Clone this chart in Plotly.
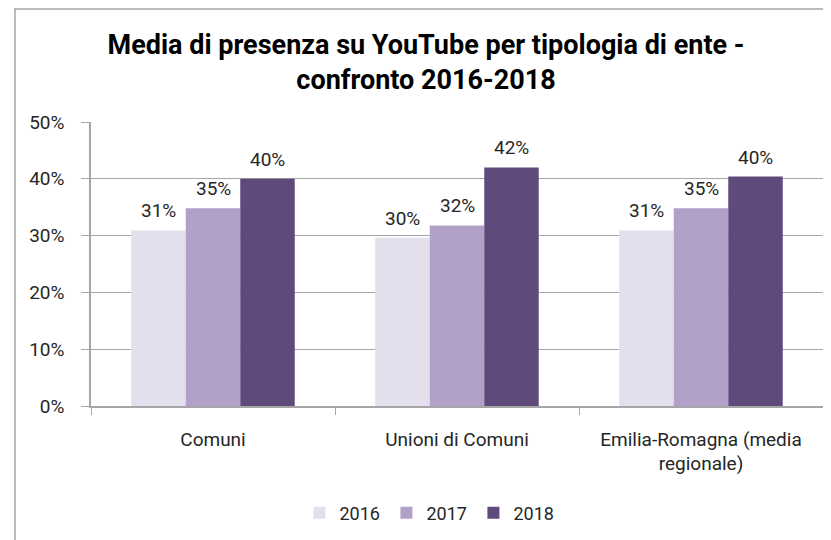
import plotly.graph_objects as go

categories = ["Comuni", "Unioni di Comuni", "Emilia-Romagna (media<br>regionale)"]
years = ["2016", "2017", "2018"]
values_2016 = [0.309, 0.296, 0.309]
values_2017 = [0.348, 0.318, 0.348]
values_2018 = [0.400, 0.420, 0.404]
labels_2016 = ["31%", "30%", "31%"]
labels_2017 = ["35%", "32%", "35%"]
labels_2018 = ["40%", "42%", "40%"]
colors = ["#E4DFEC", "#B1A0C7", "#604A7B"]

FONT = "Roboto, sans-serif"

# page body has an 8px margin: figure is placed at (8, 8) in the window
W, H = 823, 532
L, R, T, B = 83, 8, 114, 134
PW, PH = W - L - R, H - T - B
BARGAP = 0.33
bar_px = PW / len(categories) * (1 - BARGAP) / len(years)

series = [values_2016, values_2017, values_2018]
series_labels = [labels_2016, labels_2017, labels_2018]

fig = go.Figure()
annotations = []
for i, (yr, vals, labs, col) in enumerate(zip(years, series, series_labels, colors)):
    fig.add_trace(go.Bar(
        name=yr, x=categories, y=vals,
        marker=dict(color=col, line=dict(width=0)),
    ))
    for cat, v, lab in zip(categories, vals, labs):
        annotations.append(dict(
            x=cat, y=v, xref="x", yref="y", text=lab, showarrow=False,
            xanchor="center", yanchor="bottom",
            xshift=(i - 1) * bar_px, yshift=6,
            font=dict(size=19, color="#262626", family=FONT),
        ))

fig.update_layout(
    width=W, height=H,
    margin=dict(l=L, r=R, t=T, b=B, autoexpand=False),
    paper_bgcolor="white", plot_bgcolor="white",
    barmode="group", bargap=BARGAP, bargroupgap=0,
    font=dict(family=FONT, size=19, color="#262626"),
    title=dict(
        text="<b>Media di presenza su YouTube per tipologia di ente -<br>confronto 2016-2018</b>",
        x=418 / W, xanchor="center", y=1 - 46 / H, yanchor="top",
        font=dict(size=27, color="#000000", family=FONT),
    ),
    showlegend=True,
    legend=dict(orientation="h", x=0.463, xanchor="center", y=-0.377, yanchor="middle",
                font=dict(size=18, color="#262626"), traceorder="normal",
                entrywidth=42, entrywidthmode="pixels", itemwidth=30),
    xaxis=dict(showline=True, linecolor="#A6A6A6", linewidth=1.5, automargin=False,
               ticks="outside", tickson="boundaries", ticklen=7, tickcolor="#A6A6A6",
               ticklabelstandoff=15,
               tickfont=dict(size=19, color="#262626")),
    yaxis=dict(range=[0, 0.5], dtick=0.1, tickformat=".0%", automargin=False,
               showgrid=True, gridcolor="#A6A6A6", gridwidth=1,
               showline=True, linecolor="#A6A6A6", linewidth=1.5,
               ticks="outside", ticklen=8, tickcolor="#A6A6A6",
               ticklabelstandoff=13,
               tickfont=dict(size=19, color="#262626"), zeroline=False),
    annotations=annotations,
    shapes=[
        dict(type="line", xref="paper", yref="paper",
             x0=(7 - L) / PW, x1=(7 - L) / PW, y0=1 + T / PH, y1=-1,
             line=dict(color="#A6A6A6", width=1.5)),
        dict(type="line", xref="paper", yref="paper",
             x0=(7 - L) / PW, x1=1.2, y0=1 + (T - 1) / PH, y1=1 + (T - 1) / PH,
             line=dict(color="#A6A6A6", width=1.5)),
    ],
)

fig.write_html("out.html")
